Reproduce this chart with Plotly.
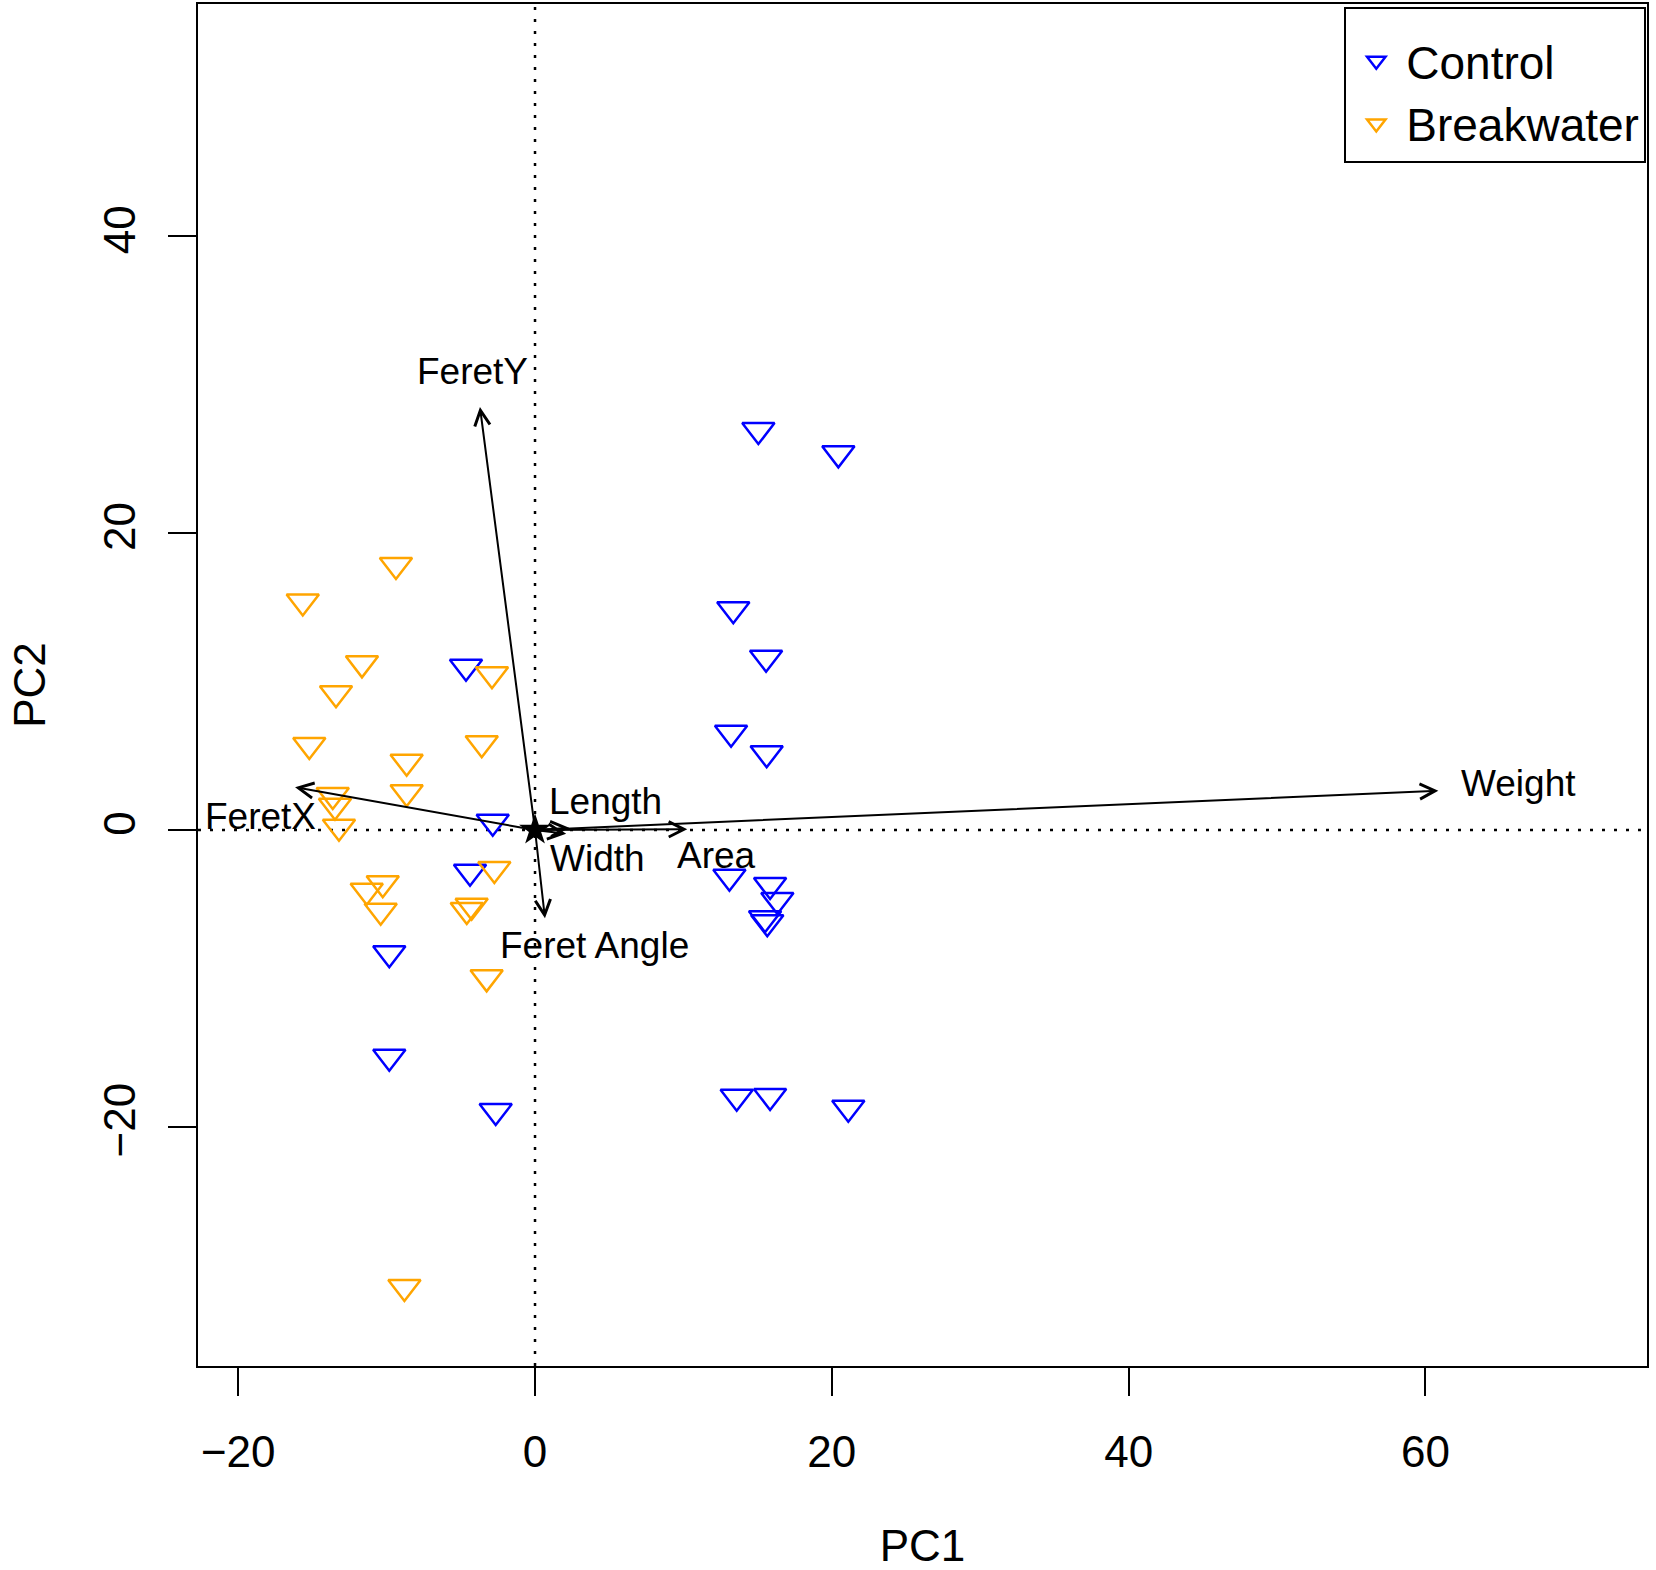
import plotly.graph_objects as go

# PCA scores
control_pc1 = [15.05, 20.44, 13.36, 15.57, 13.21, 15.61, -4.65, -2.85, -4.38, 13.10,
               15.84, 16.33, 15.50, 15.65, -9.82, -9.82, -2.65, 13.59, 15.84, 21.11]
control_pc2 = [26.95, 25.38, 14.87, 11.61, 6.56, 5.17, 11.00, 0.56, -2.81, -3.15,
               -3.71, -4.72, -5.95, -6.22, -8.31, -15.28, -18.94, -17.97, -17.92, -18.71]

breakwater_pc1 = [-9.37, -15.65, -11.66, -13.41, -2.90, -15.21, -3.59, -8.65, -8.65, -13.63,
                  -13.48, -13.21, -2.74, -10.26, -11.34, -10.40, -4.27, -4.60, -3.26, -8.80]
breakwater_pc2 = [17.86, 15.40, 11.23, 9.21, 10.50, 5.73, 5.84, 4.60, 2.54, 2.36,
                  1.64, 0.22, -2.63, -3.59, -4.09, -5.44, -5.10, -5.39, -9.93, -30.80]

# loadings (arrow tips) and where their labels sit
var_names = ["FeretY", "FeretX", "Weight", "Length", "Width", "Area", "Feret Angle"]
tip_x = [-3.71, -16.17, 60.87, 2.30, 2.10, 10.26, 0.67]
tip_y = [28.50, 2.88, 2.65, 0.15, -0.25, 0.05, -5.95]
label_x = [-4.20, -18.50, 66.26, 4.72, 4.20, 12.26, 4.04]
label_y = [30.90, 0.90, 3.15, 1.91, -1.91, -1.73, -7.80]

x_ticks = [-20, 0, 20, 40, 60]
y_ticks = [-20, 0, 20, 40]

FONT = "Liberation Sans, Arial, Helvetica, sans-serif"

fig = go.Figure()

fig.add_trace(go.Scatter(
    x=control_pc1, y=control_pc2, mode="markers", name="Control",
    marker=dict(symbol="triangle-down-open", size=28, color="#0000FF", line=dict(width=2.5, color="#0000FF")),
))
fig.add_trace(go.Scatter(
    x=breakwater_pc1, y=breakwater_pc2, mode="markers", name="Breakwater",
    marker=dict(symbol="triangle-down-open", size=28, color="#FFA500", line=dict(width=2.5, color="#FFA500")),
))

# dotted reference lines through the origin
fig.add_shape(type="line", xref="x", yref="paper", x0=0, x1=0, y0=0, y1=1,
              line=dict(color="black", width=2.5, dash="3px,9px"), layer="below")
fig.add_shape(type="line", xref="paper", yref="y", x0=0, x1=1, y0=0, y1=0,
              line=dict(color="black", width=2.5, dash="3px,9px"), layer="below")

# loading arrows
for i in range(len(var_names)):
    fig.add_annotation(x=tip_x[i], y=tip_y[i], ax=0, ay=0, xref="x", yref="y", axref="x", ayref="y",
                       text="", showarrow=True, arrowhead=5, arrowsize=1.5, arrowwidth=2,
                       arrowcolor="black", standoff=0, startstandoff=0)
    fig.add_annotation(x=label_x[i], y=label_y[i], xref="x", yref="y", text=var_names[i],
                       showarrow=False, font=dict(family=FONT, size=37, color="black"))

# the little blob left by the short arrows at the origin
fig.add_trace(go.Scatter(x=[0], y=[0], mode="markers", showlegend=False,
                         marker=dict(symbol="star", size=24, color="black")))

fig.update_xaxes(
    range=[-22.71, 74.93], tickvals=x_ticks, ticktext=["\u221220", "0", "20", "40", "60"],
    showgrid=False, zeroline=False, showline=True, mirror=True, linecolor="black", linewidth=2,
    ticks="outside", ticklen=28, tickwidth=2, tickcolor="black", ticklabelstandoff=18,
    tickfont=dict(family=FONT, size=44, color="black"), automargin=False,
    title=dict(text="PC1", font=dict(family=FONT, size=44, color="black"), standoff=56),
)
fig.update_yaxes(
    range=[-36.12, 55.66], tickvals=y_ticks, ticktext=["\u221220", "0", "20", "40"],
    showgrid=False, zeroline=False, showline=True, mirror=True, linecolor="black", linewidth=2,
    ticks="outside", ticklen=28, tickwidth=2, tickcolor="black", tickangle=-90, ticklabelstandoff=15,
    tickfont=dict(family=FONT, size=44, color="black"), automargin=False,
    title=dict(text="PC2", font=dict(family=FONT, size=44, color="black"), standoff=36),
)

fig.update_layout(
    width=1656, height=1570,
    margin=dict(l=198, r=9, t=4, b=204),
    plot_bgcolor="white", paper_bgcolor="white",
    font=dict(family=FONT, color="black"),
    legend=dict(x=0.9995, xanchor="right", y=0.998, yanchor="top",
                bgcolor="white", bordercolor="black", borderwidth=2,
                font=dict(family=FONT, size=46, color="black"), itemwidth=50,
                tracegroupgap=0,
                title=dict(text=" ", font=dict(family=FONT, size=12), side="top")),
)

# drop the browser's default 8px body margin so the figure sits at the page corner
fig.write_html("out.html", config={"displayModeBar": False},
               post_script="document.body.style.margin='0';")
